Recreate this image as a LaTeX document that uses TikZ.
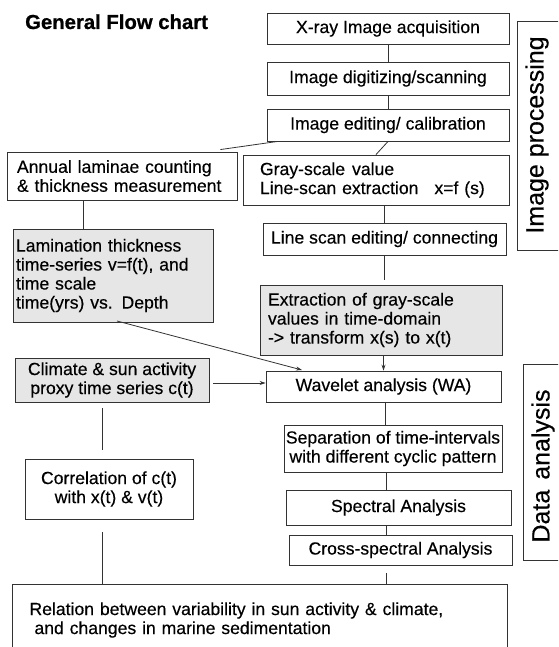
\documentclass[tikz,border=0pt]{standalone}
\usepackage{fontspec}
\setmainfont{Liberation Sans}[FakeBold=0.35]
\newfontfamily\titlefont{Liberation Sans Bold}[FakeBold=0.8]
\usetikzlibrary{arrows.meta}
\definecolor{linecol}{HTML}{333333}
\definecolor{fillgray}{HTML}{E6E6E6}
\tikzset{
  box/.style={draw=linecol, line width=0.9pt, inner sep=0pt, font=\fontsize{17.6}{19}\selectfont, text=black},
  shaded/.style={fill=fillgray},
  conn/.style={draw=linecol, line width=0.8pt},
  arr/.style={conn, -{Stealth[length=6pt,width=4pt]}},
  sidelabel/.style={rotate=90, font=\fontsize{25}{27}\selectfont, inner sep=0pt}
}
\newcommand{\bx}[7]{%
  \pgfmathsetmacro{\bw}{#4-#2}\pgfmathsetmacro{\bh}{#5-#3}%
  \node[box, minimum width=\bw, minimum height=\bh, #6] (#1) at ({(#2+#4)/2},{(#3+#5)/2}) {#7};}
\begin{document}
\begin{tikzpicture}[x=1pt,y=-1pt]
\useasboundingbox (0,0) rectangle (558,647);
\clip (0,0) rectangle (558,647);
\node[anchor=base west, font=\fontsize{20.3}{22}\titlefont, inner sep=0pt] (title) at (25,29) {General Flow chart};
% right column
\bx{xray}{267}{13}{509}{44}{}{X-ray Image acquisition}
\bx{digit}{267}{62}{509}{95}{}{Image digitizing/scanning}
\bx{edit}{267}{109}{509}{141}{}{Image editing/ calibration}
\bx{gray}{243}{155}{509}{205}{text width=232, align=left}{Gray-scale\hspace{7pt}value\\\mbox{Line-scan extraction\hspace{16pt}x=f (s)}}
\bx{lscan}{263}{223}{506}{255}{}{Line scan editing/ connecting}
\bx{extr}{260}{285}{502}{355}{shaded, text width=226, align=left}{Extraction of gray-scale\\values in time-domain\\-> transform x(s) to x(t)}
\bx{wave}{266}{371}{501}{402}{}{Wavelet analysis (WA)}
\bx{sep}{284}{425}{502}{472}{align=center}{Separation of time-intervals\\with different cyclic pattern}
\bx{spec}{286}{490}{511}{525}{}{Spectral Analysis}
\bx{cross}{289}{535}{512}{565}{}{Cross-spectral Analysis}
% left column
\bx{annual}{7}{152}{237}{200}{text width=210, align=left}{Annual laminae counting\\\& thickness measurement}
\bx{lamin}{13}{229}{213}{322}{shaded, text width=194, align=left}{Lamination thickness\\time-series v=f(t), and\\time scale\\time(yrs) vs. Depth}
\bx{climate}{15}{358}{209}{402}{shaded, align=center}{Climate \& sun activity\\proxy time series c(t)}
\bx{corr}{25}{459}{193}{519}{align=center}{Correlation of c(t)\\with x(t) \& v(t)}
\bx{final}{12}{584}{507}{656}{text width=460, align=left}{Relation between variability in sun activity \& climate,\\\hspace{5pt}and changes in marine sedimentation}
% side labels
\bx{ipbox}{517}{21}{600}{250}{}{}
\bx{dabox}{523}{364}{600}{560}{}{}
\node[sidelabel] (iplab) at (537,135) {Image processing};
\node[sidelabel] (dalab) at (543,466) {Data\hspace{10pt}analysis};
% connectors
\draw[conn] (xray.south) -- (digit.north);
\draw[conn] (digit.south) -- (edit.north);
\draw[conn] (edit.south) -- (gray.north);
\draw[conn] ([xshift=11pt]edit.south west) -- ([xshift=-17pt,yshift=2pt]annual.north east);
\draw[conn] (gray.south -| lscan.north) -- (lscan.north);
\coordinate (extrtop) at ([yshift=5pt]extr.north -| lscan.south);
\draw[conn] (lscan.south) -- (extrtop);
\draw[arr] (extr.south -| wave.north) -- (wave.north);
\draw[conn] (annual.south -| 83,0) coordinate (annb) -- (annb |- lamin.north);
\coordinate (lamout) at (117,321);
\coordinate (wavein) at (302,370);
\draw[arr] (lamout) -- (wavein);
\coordinate (climout) at (213,383);
\draw[arr] (climout) -- (wave.west |- climout);
\coordinate (c1) at (102,408);
\coordinate (c2) at (102,450);
\draw[conn] (c1) -- (c2);
\coordinate (c3) at (102,532);
\draw[conn] (c3) -- (c3 |- final.north);
\draw[conn] (wave.south -| 385,0) coordinate (wb) -- (wb |- sep.north);
\draw[conn] (sep.south -| 386,0) coordinate (sb) -- (sb |- spec.north);
\draw[conn] (spec.south -| 386,0) coordinate (pb) -- (pb |- cross.north);
\coordinate (crb) at (386,573);
\draw[conn] (crb) -- (crb |- final.north);
\end{tikzpicture}
\end{document}
